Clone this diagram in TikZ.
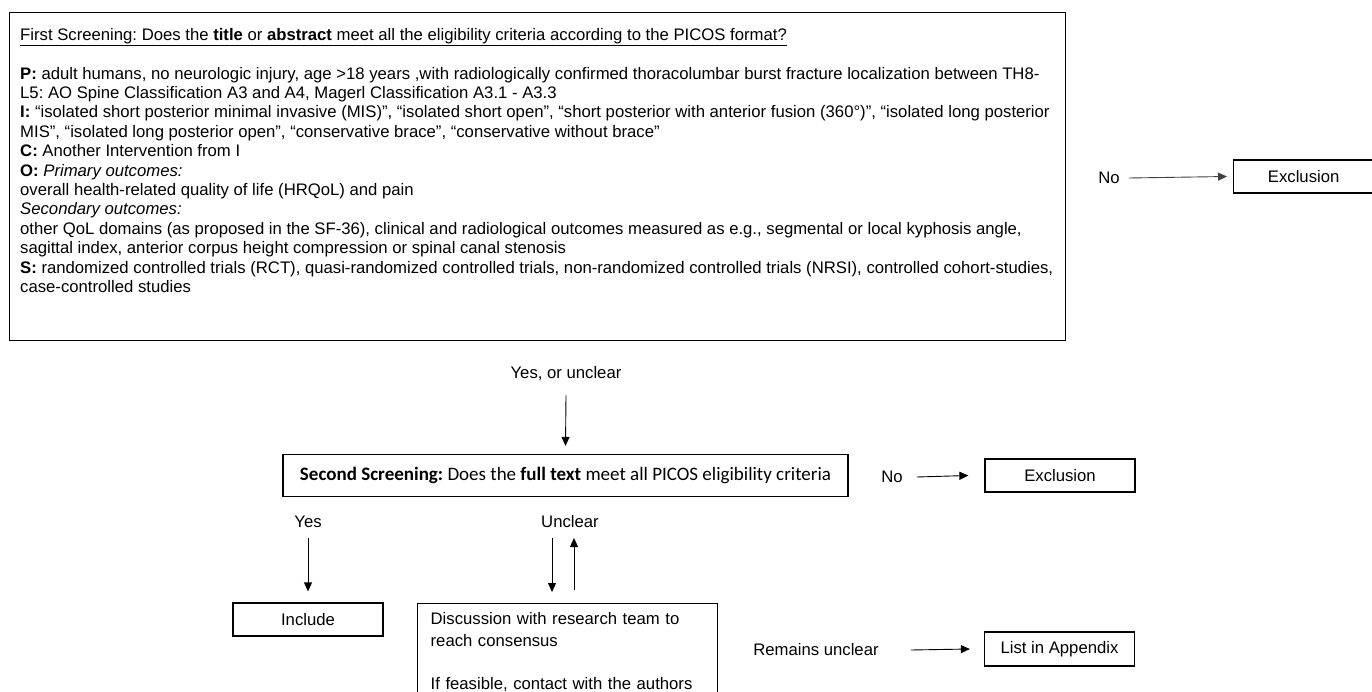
\documentclass[tikz,border=0pt]{standalone}
\usepackage{fontspec}
\setmainfont{Liberation Sans}
\newfontfamily\calfont{Carlito}
\usetikzlibrary{arrows.meta}
\frenchspacing
\begin{document}
\begin{tikzpicture}[x=1pt,y=-1pt,
  every node/.style={font=\fontsize{16.7}{19.4}\selectfont},
  box/.style={draw, line width=1.3pt, inner sep=0pt},
  lbl/.style={inner sep=0pt},
  arr/.style={line width=0.9pt, -{Triangle[length=9pt,width=8pt]}}]
\useasboundingbox (0,0) rectangle (1372,692);
\fill[white] (0,0) rectangle (1372,692);

% first screening box
\node[box, anchor=north west, minimum width=1056pt, minimum height=328pt] (first) at (9,12) {};
\node[lbl, anchor=north west, align=left] (firsttext) at (20,28) {%
\underline{First Screening: Does the \textbf{title} or \textbf{abstract} meet all the eligibility criteria according to the PICOS format?}\\[19.4pt]
\textbf{P:} adult humans, no neurologic injury, age >18 years ,with radiologically confirmed thoracolumbar burst fracture localization between TH8-\\
L5: AO Spine Classification A3 and A4, Magerl Classification A3.1 - A3.3\\
\textbf{I:} “isolated short posterior minimal invasive (MIS)”, “isolated short open”, “short posterior with anterior fusion (360°)”, “isolated long posterior\\
MIS”, “isolated long posterior open”, “conservative brace”, “conservative without brace”\\
\textbf{C:} Another Intervention from I\\
\textbf{O:} \textit{Primary outcomes:}\\
overall health-related quality of life (HRQoL) and pain\\
\textit{Secondary outcomes:}\\
other QoL domains (as proposed in the SF-36), clinical and radiological outcomes measured as e.g., segmental or local kyphosis angle,\\
sagittal index, anterior corpus height compression or spinal canal stenosis\\
\textbf{S:} randomized controlled trials (RCT), quasi-randomized controlled trials, non-randomized controlled trials (NRSI), controlled cohort-studies,\\
case-controlled studies};

\node[lbl] (no1) at (1109,178) {No};
\node[box, anchor=west, minimum width=140pt, minimum height=33pt] (excl1) at (1233,176.5) {Exclusion};
\draw[arr, black!75] ([xshift=9pt]no1.east) -- ([xshift=-6pt]excl1.west);

% second screening
\node[lbl] (yesun) at (566,374) {Yes, or unclear};
\node[box, minimum width=565pt, minimum height=42pt] (second) at (565.5,475.5)
  {\calfont\fontsize{19}{21}\selectfont\textbf{Second Screening:} Does the \textbf{full text} meet all PICOS eligibility criteria};
\draw[arr] ([yshift=-14pt]yesun.south) -- ([yshift=8pt]second.north);

\node[lbl] (no2) at (892,477) {No};
\node[box, minimum width=150pt, minimum height=33pt] (excl2) at (1060,475.5) {Exclusion};
\draw[arr] ([xshift=14pt]no2.east) -- ([xshift=-16pt]excl2.west);

% branches
\node[lbl] (yes) at (308,522) {Yes};
\node[lbl] (unclear) at (570,522) {Unclear};
\node[box, minimum width=150pt, minimum height=33pt] (include) at (308,619.5) {Include};
\node[box, anchor=north west, text width=274pt, inner xsep=13pt, inner ysep=9pt, align=left,
  font=\fontsize{16.7}{21.5}\selectfont] (disc) at (417,603)
  {Discussion with research team to\\reach consensus\\[21.5pt]If feasible, contact with the authors\\[30pt]};
\draw[arr] ([yshift=-10pt]yes.south) -- ([yshift=11pt]include.north);
\coordinate (ud) at (552,538);
\coordinate (uu) at (574,538);
\draw[arr, shorten >=11pt] (ud) -- (ud |- disc.north);
\draw[arr, shorten <=13pt] (uu |- disc.north) -- (uu);

\node[lbl] (remains) at (816,650) {Remains unclear};
\node[box, minimum width=150pt, minimum height=34pt] (appendix) at (1059.5,649) {List in Appendix};
\draw[arr] ([xshift=32pt]remains.east) -- ([xshift=-14pt]appendix.west);
\end{tikzpicture}
\end{document}
